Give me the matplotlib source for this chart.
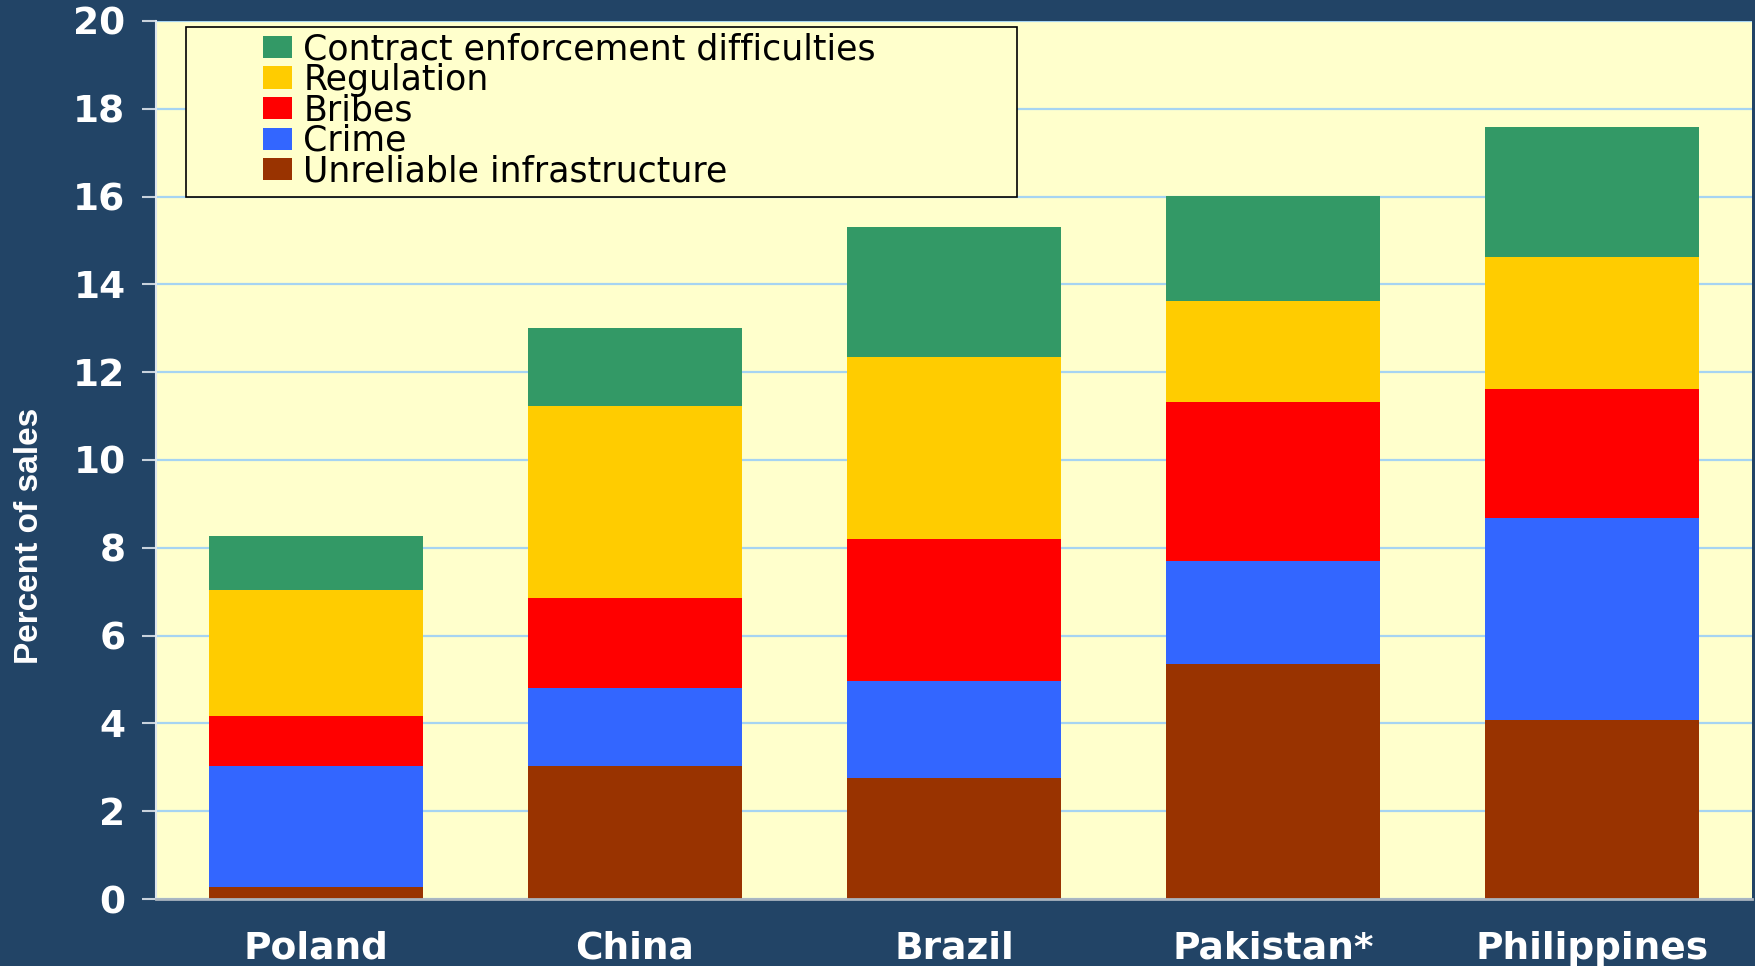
import numpy as np
import matplotlib
matplotlib.use("Agg")
import matplotlib.pyplot as plt
from matplotlib.patches import Rectangle, Patch

countries = ["Poland", "China", "Brazil", "Pakistan*", "Philippines"]
infrastructure = [0.28, 3.04, 2.76, 5.36, 4.08]
crime = [2.76, 1.76, 2.21, 2.34, 4.59]
bribes = [1.12, 2.06, 3.24, 3.63, 2.94]
regulation = [2.88, 4.36, 4.14, 2.29, 3.01]
contract = [1.23, 1.79, 2.96, 2.40, 2.96]

series = [
    ("Unreliable infrastructure", infrastructure, "#993300"),
    ("Crime", crime, "#3366FF"),
    ("Bribes", bribes, "#FF0000"),
    ("Regulation", regulation, "#FFCC00"),
    ("Contract enforcement difficulties", contract, "#339966"),
]

navy = "#224466"
plot_bg = "#FFFFCC"
grid_col = "#A6D4F2"

W, H = 1755, 966
fig = plt.figure(figsize=(W / 100, H / 100), dpi=100, facecolor=navy)
ax = fig.add_axes([156 / W, 67 / H, 1596 / W, 878 / H])
ax.set_facecolor(plot_bg)

x = np.arange(len(countries))
bottom = np.zeros(len(countries))
handles = []
for name, vals, col in series:
    ax.bar(x, vals, width=0.67, bottom=bottom, color=col, linewidth=0, zorder=2)
    bottom += np.array(vals)
    handles.append(Patch(facecolor=col, edgecolor="none", label=name))

ax.set_xlim(-0.5, len(countries) - 0.5)
ax.set_ylim(0, 20)
ax.set_yticks(np.arange(0, 21, 2))
ax.yaxis.grid(True, color=grid_col, linewidth=1.6, zorder=0)
ax.set_axisbelow(True)

for s in ["top", "right"]:
    ax.spines[s].set_visible(False)
ax.spines["left"].set_color("#DDE6EE")
ax.spines["left"].set_linewidth(1.5)
ax.spines["bottom"].set_color("#A9B4BF")
ax.spines["bottom"].set_linewidth(2)

ax.tick_params(axis="y", length=10, width=1.5, color="#C8D2DC", pad=12,
               labelsize=27, labelcolor="white")
ax.tick_params(axis="x", length=0, pad=23, labelsize=27, labelcolor="white")
ax.set_xticks(x)
ax.set_xticklabels(countries, fontweight="bold", family="DejaVu Sans")
for lab in ax.get_yticklabels():
    lab.set_fontweight("bold")
    lab.set_family("DejaVu Sans")

fig.text(30 / W, 1 - 536 / H, "Percent of sales", rotation=90, ha="center",
         va="center", color="white", fontsize=24, fontweight="bold",
         family="Liberation Sans")

# legend box
ax.add_patch(Rectangle((0.0188, 0.7995), 0.5207, 0.1937, transform=ax.transAxes,
                       facecolor=plot_bg, edgecolor="black", linewidth=1.2,
                       zorder=3))
ax.legend(handles=handles[::-1], loc="upper left",
          bbox_to_anchor=(0.0559, 1.007), frameon=False, borderpad=0,
          handlelength=0.84, handleheight=0.6,
          handletextpad=0.33, labelspacing=-0.10,
          prop={"family": "DejaVu Sans", "size": 25}).set_zorder(4)

fig.savefig("out.png", dpi=100, facecolor=navy)
